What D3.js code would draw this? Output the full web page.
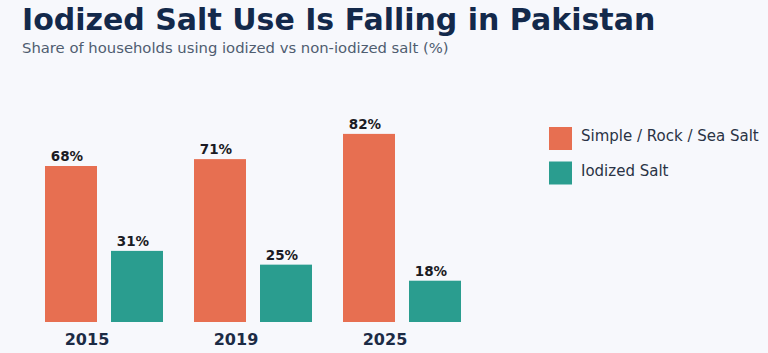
<!DOCTYPE html>
<html><head><meta charset="utf-8">
<script src="https://cdn.jsdelivr.net/npm/d3@7"></script>
<style>
html,body{margin:0;padding:0;background:#f7f8fc;}
svg{display:block;font-family:"DejaVu Sans",sans-serif;}
</style></head>
<body><svg id="chart" width="768" height="353"></svg>
<script>
const years = ["2015", "2019", "2025"];
const seriesNames = ["Simple / Rock / Sea Salt", "Iodized Salt"];
const simpleSalt = [68, 71, 82];
const iodizedSalt = [31, 25, 18];
const colors = ["#e76f51", "#2a9d8f"];

const svg = d3.select("#chart");
svg.append("rect").attr("width",768).attr("height",353).attr("fill","#f7f8fc");

const base = 322;
const x = d3.scaleBand().domain(years).range([30, 477]).paddingInner(0).paddingOuter(0);
const y = d3.scaleLinear().domain([0, 100]).range([base, base - 229.4]);
const inner = d3.scaleBand().domain(seriesNames).range([15, 133]).paddingInner(14/66).paddingOuter(0);

const data = years.map((yr,i)=>({year:yr, vals:[simpleSalt[i], iodizedSalt[i]]}));

const g = svg.selectAll("g.grp").data(data).join("g").attr("class","grp")
  .attr("transform", d=>`translate(${x(d.year)},0)`);

g.selectAll("rect").data(d=>d.vals.map((v,j)=>({v, s:seriesNames[j], j})))
  .join("rect")
  .attr("x", d=>inner(d.s)).attr("width", inner.bandwidth())
  .attr("y", d=>y(d.v)).attr("height", d=>base - y(d.v))
  .attr("fill", d=>colors[d.j]);

g.selectAll("text.val").data(d=>d.vals.map((v,j)=>({v, s:seriesNames[j], j})))
  .join("text").attr("class","val")
  .attr("x", d=>inner(d.s) + inner.bandwidth()/2 - 4)
  .attr("y", d=>y(d.v) - 5)
  .attr("text-anchor","middle")
  .attr("font-size", 13.5).attr("font-weight","bold").attr("fill","#1b1b24")
  .text(d=>d.v + "%");

g.append("text")
  .attr("x", inner(seriesNames[0]) + 42)
  .attr("y", 345)
  .attr("text-anchor","middle")
  .attr("font-size", 16).attr("font-weight","bold").attr("fill","#1c2b45")
  .text(d=>d.year);

svg.append("text").attr("x",22).attr("y",30)
  .attr("font-size",30).attr("font-weight","bold").attr("fill","#13294b")
  .text("Iodized Salt Use Is Falling in Pakistan");
svg.append("text").attr("x",22).attr("y",53)
  .attr("font-size",14.8).attr("fill","#4f5d70")
  .text("Share of households using iodized vs non-iodized salt (%)");

const lg = svg.append("g").selectAll("g").data(seriesNames).join("g")
  .attr("transform",(d,i)=>`translate(549,${127 + i*34.5})`);
lg.append("rect").attr("width",23).attr("height",23).attr("fill",(d,i)=>colors[i]);
lg.append("text").attr("x",32).attr("y",9).attr("dy","0.35em")
  .attr("font-size",15).attr("fill","#2a3345").text(d=>d);
</script></body></html>
